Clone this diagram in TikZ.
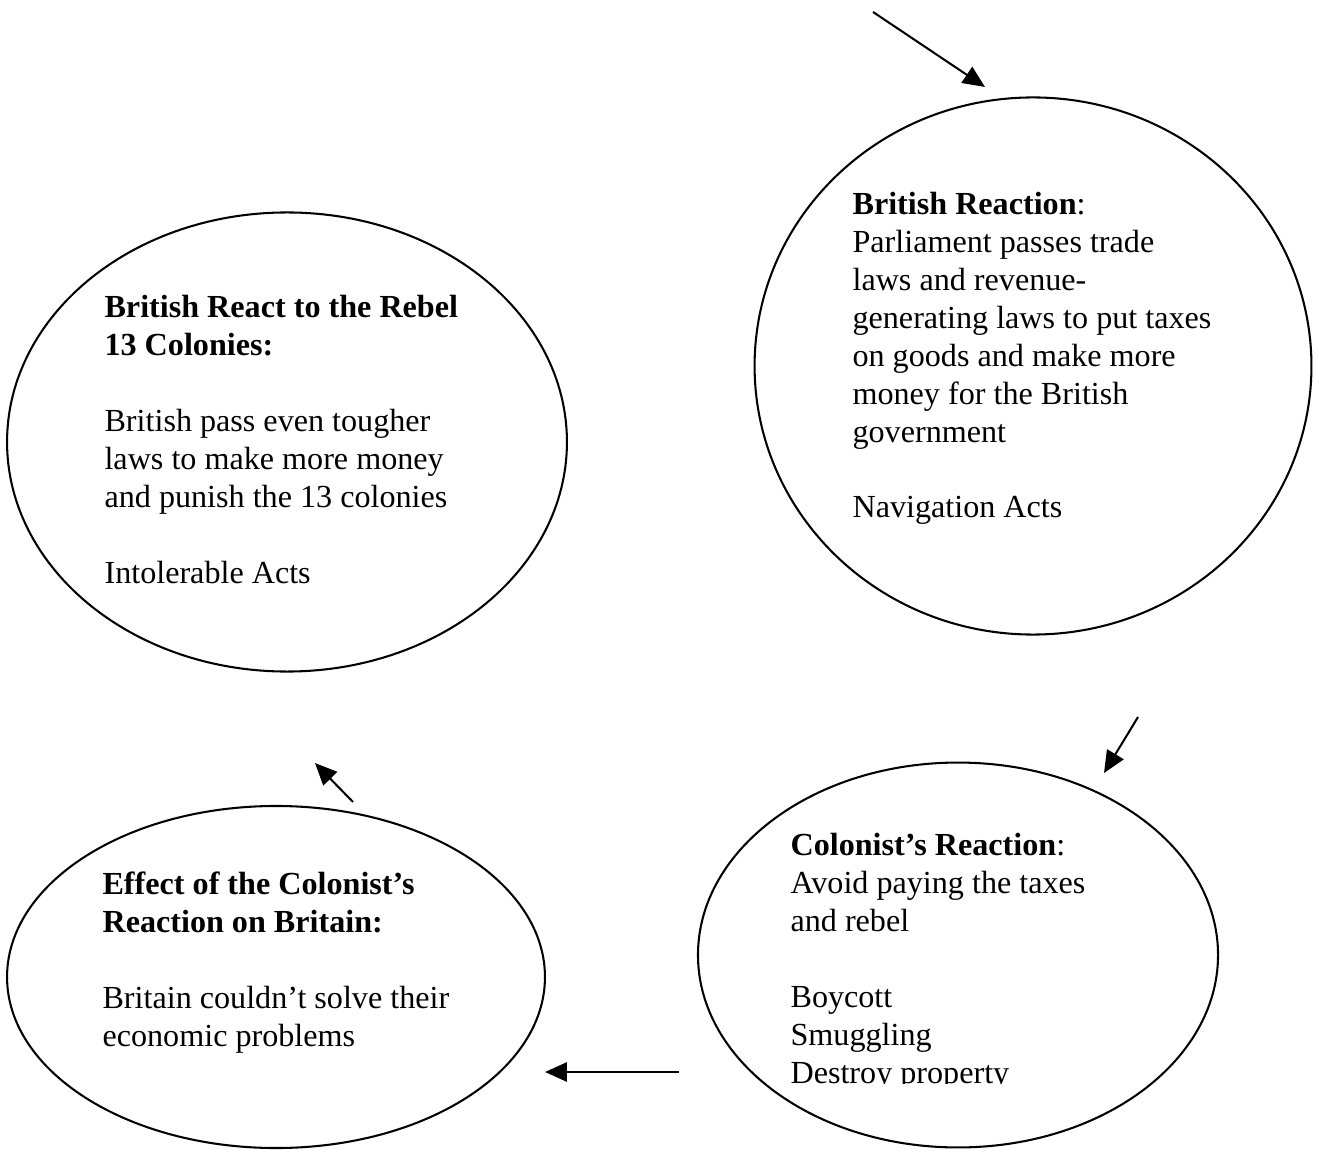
\documentclass[tikz,border=0pt]{standalone}
\usepackage{fontspec}
\setmainfont{Liberation Serif}
\usetikzlibrary{shapes.geometric,arrows.meta}
\tikzset{
  bubble/.style={ellipse,draw,line width=0.75pt,inner sep=0pt},
  blurb/.style={anchor=base west,align=left,inner sep=0pt,
    font=\fontsize{11.7}{13.8}\selectfont},
  cycle arrow/.style={-{Triangle[length=8pt,width=7pt]},line width=0.75pt}
}

\begin{document}
\begin{tikzpicture}[x=0.364pt,y=-0.364pt]
  \useasboundingbox (0,0) rectangle (1324,1150);
  % the four stages
  \node[bubble,minimum width=202.7pt,minimum height=195.5pt] (trade) at (1033,366) {};
  \node[bubble,minimum width=189.3pt,minimum height=140.1pt] (colon) at (958,955) {};
  \node[bubble,minimum width=195.8pt,minimum height=124.5pt] (effect) at (276,977) {};
  \node[bubble,minimum width=203.8pt,minimum height=167.1pt] (punish) at (287,442) {};
  % texts sit on the baseline of their last line
  \node[blurb] (tradeText) at (852,518) {\textbf{British Reaction}:\\
    Parliament passes trade\\laws and revenue-\\generating laws to put taxes\\
    on goods and make more\\money for the British\\government\\[13.8pt]
    Navigation Acts};
  \begin{scope}
    \clip (690,700) rectangle (1230,1083);
    \node[blurb] (colonText) at (790,1083) {\textbf{Colonist’s Reaction}:\\
      Avoid paying the taxes\\and rebel\\[13.8pt]
      Boycott\\Smuggling\\Destroy property};
  \end{scope}
  \node[blurb] (effectText) at (102,1046) {\textbf{Effect of the Colonist’s}\\
    \textbf{Reaction on Britain:}\\[13.8pt]
    Britain couldn’t solve their\\economic problems};
  \node[blurb] (punishText) at (104,583) {\textbf{British React to the Rebel}\\
    \textbf{13 Colonies:}\\[13.8pt]
    British pass even tougher\\laws to make more money\\
    and punish the 13 colonies\\[13.8pt]
    Intolerable Acts};
  % arrows between the stages
  \coordinate (a1s) at (873,12);   \coordinate (a1e) at (985,87);
  \coordinate (a2s) at (1138,717); \coordinate (a2e) at (1104,773);
  \coordinate (a3s) at (679,1072); \coordinate (a3e) at (545,1072);
  \coordinate (a4s) at (353,802);  \coordinate (a4e) at (315,763);
  \draw[cycle arrow] (a1s) -- (a1e);
  \draw[cycle arrow] (a2s) -- (a2e);
  \draw[cycle arrow] (a3s) -- (a3e);
  \draw[cycle arrow] (a4s) -- (a4e);
\end{tikzpicture}
\end{document}
